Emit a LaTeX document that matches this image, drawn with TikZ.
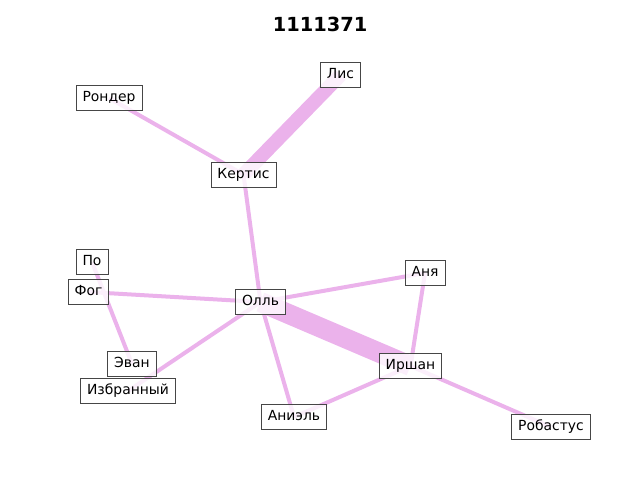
\documentclass[tikz,border=0pt]{standalone}
\usepackage{fontspec}
\setmainfont{DejaVu Sans}
\usetikzlibrary{backgrounds}
\definecolor{tiecol}{RGB}{235,178,235}
\definecolor{boxline}{RGB}{70,70,70}

\begin{document}
\begin{tikzpicture}[x=1pt,y=-1pt,
	lbl/.style={draw=boxline,line width=0.9pt,fill=white,fill opacity=0.8,text opacity=1,
		inner xsep=6.5pt,inner ysep=5.6pt,text height=10.5pt,text depth=3.3pt,
		font=\fontsize{13.9}{16}\selectfont},
	tie/.style={draw=tiecol,line width=4pt}]

	\useasboundingbox (0,0) rectangle (640,480);
	\node[font=\fontsize{19.4}{22}\selectfont\bfseries] (title) at (320,24) {1111371};

	\node[lbl] (lis) at (340.5,75) {Лис};
	\node[lbl] (ronder) at (109,98) {Рондер};
	\node[lbl] (kertis) at (243.5,174.5) {Кертис};
	\node[lbl] (po) at (92,262) {По};
	\node[lbl] (fog) at (88.5,292) {Фог};
	\node[lbl] (oll) at (260.5,302) {Олль};
	\node[lbl] (anya) at (425,273) {Аня};
	\node[lbl] (evan) at (132,364) {Эван};
	\node[lbl] (izbr) at (128,391) {Избранный};
	\node[lbl] (irshan) at (410.5,366) {Иршан};
	\node[lbl] (aniel) at (294,417) {Аниэль};
	\node[lbl] (robast) at (551,427) {Робастус};

	\begin{pgfonlayer}{background}
	\path[tie] (ronder.center) to (kertis.center);
	\path[tie,line width=14pt] (kertis.center) to (lis.center);
	\path[tie] (kertis.center) to (oll.center);
	\path[tie] (fog.center) to (oll.center);
	\path[tie] (po.center) to (evan.center);
	\path[tie] (oll.center) to (izbr.center);
	\path[tie] (oll.center) to (anya.center);
	\path[tie,line width=20pt] (oll.center) to (irshan.center);
	\path[tie] (oll.center) to (aniel.center);
	\path[tie] (anya.center) to (irshan.center);
	\path[tie] (irshan.center) to (aniel.center);
	\path[tie] (irshan.center) to (robast.center);
	\end{pgfonlayer}

\end{tikzpicture}
\end{document}
